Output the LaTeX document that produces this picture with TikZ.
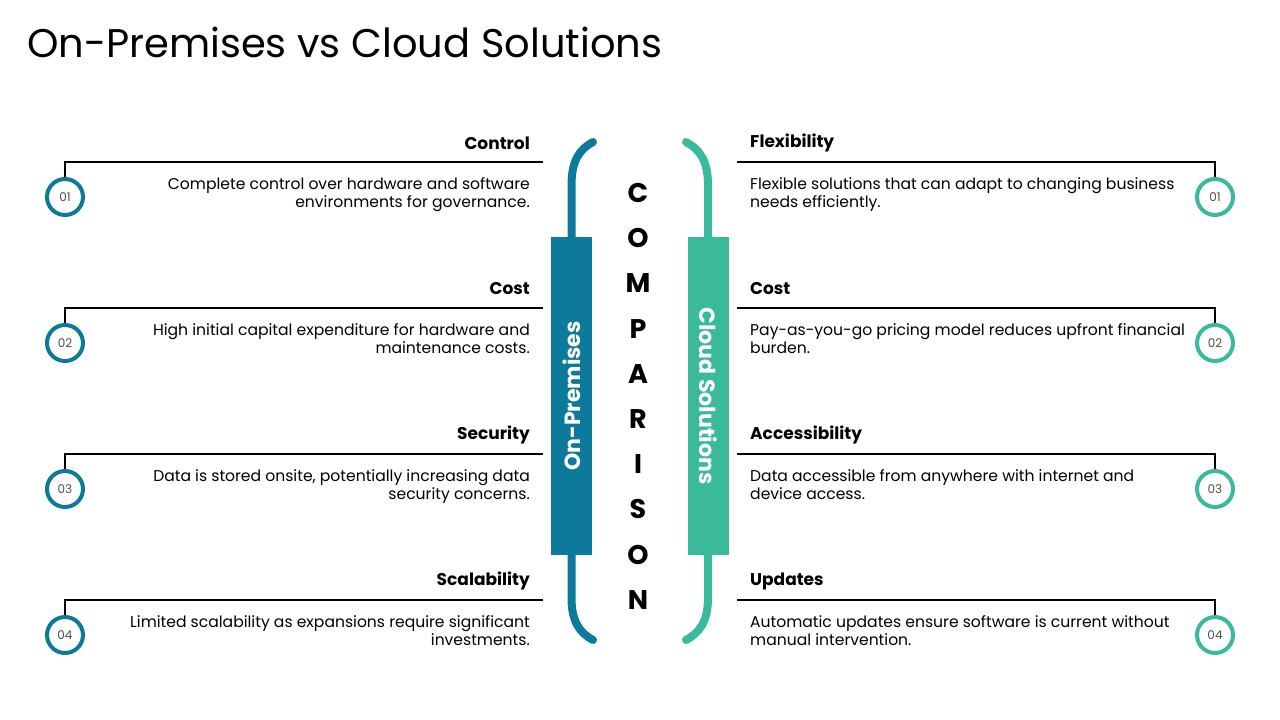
\documentclass[tikz,border=0pt]{standalone}
\usepackage{fontspec}
\setmainfont{Poppins}
\usetikzlibrary{positioning, calc}
\definecolor{prem}{HTML}{0E7A9B}
\definecolor{cloud}{HTML}{3BB99B}
\tikzset{
  numc/.style   = {draw, circle, line width=4pt, minimum size=36pt, inner sep=0pt,
                   font=\fontsize{12}{12}\selectfont, text=black!70},
  head/.style   = {inner sep=0pt, font=\fontsize{17}{17}\selectfont\bfseries},
  desc/.style   = {inner sep=0pt, font=\fontsize{15.6}{18}\selectfont},
  rule/.style   = {line width=1.2pt},
  bar/.style    = {line width=8pt, line cap=round},
  barbox/.style = {inner sep=0pt, minimum width=41pt, minimum height=318pt},
  barlbl/.style = {text=white, font=\fontsize{22}{22}\selectfont\bfseries},
  letter/.style = {inner sep=0pt, font=\fontsize{27}{27}\selectfont\bfseries},
}

\begin{document}
\begin{tikzpicture}[x=1pt, y=-1pt]
  \useasboundingbox (0,0) rectangle (1280,720);
  \node[anchor=base west, inner sep=0pt, font=\fontsize{40}{40}\selectfont]
    (title) at (27,57) {On-Premises vs Cloud Solutions};

  % left side
  \foreach \y/\n/\h/\d in {143/01/Control/{Complete control over hardware and software\\environments for governance.},
                           289/02/Cost/{High initial capital expenditure for hardware and\\maintenance costs.},
                           435/03/Security/{Data is stored onsite, potentially increasing data\\security concerns.},
                           581/04/Scalability/{Limited scalability as expansions require significant\\investments.}}{
    \node[head, anchor=east] (lh\n) at (530,\y) {\h};
    \node[desc, anchor=north east, align=right] (ld\n) at (530,\y+34) {\d};
    \node[numc, draw=prem] (ln\n) at (65,\y+54) {\n};
    \coordinate (lr\n) at (543,\y+19);
    \draw[rule] (lr\n) -- (65,\y+19) -- (ln\n);
  }

  % right side
  \foreach \y/\n/\h/\d in {143/01/Flexibility/{Flexible solutions that can adapt to changing business\\needs efficiently.},
                           289/02/Cost/{Pay-as-you-go pricing model reduces upfront financial\\burden.},
                           435/03/Accessibility/{Data accessible from anywhere with internet and\\device access.},
                           581/04/Updates/{Automatic updates ensure software is current without\\manual intervention.}}{
    \node[head, anchor=west] (rh\n) at (750,\y) {\h};
    \node[desc, anchor=north west, align=left] (rd\n) at (750,\y+34) {\d};
    \node[numc, draw=cloud] (rn\n) at (1215,\y+54) {\n};
    \coordinate (rr\n) at (737,\y+19);
    \draw[rule] (rr\n) -- (1215,\y+19) -- (rn\n);
  }

  % brackets
  \node[barbox, fill=prem] (prembar) at (571.5,396) {};
  \node[barlbl, rotate=90] (premlbl) at (prembar.center) {On-Premises};
  \draw[bar, prem] (prembar.north) -- (571.5,185) .. controls (571.5,160) and (580,149) .. (593,142);
  \draw[bar, prem] (prembar.south) -- (571.5,598) .. controls (571.5,622) and (580,633) .. (593,640);

  \node[barbox, fill=cloud] (cloudbar) at (708,396) {};
  \node[barlbl, rotate=-90] (cloudlbl) at (cloudbar.center) {Cloud Solutions};
  \draw[bar, cloud] (cloudbar.north) -- (708,185) .. controls (708,160) and (699,149) .. (686,142);
  \draw[bar, cloud] (cloudbar.south) -- (708,598) .. controls (708,622) and (699,633) .. (686,640);

  % comparison
  \foreach \l [count=\i] in {C,O,M,P,A,R,I,S,O,N}{
    \node[letter] (cmp\i) at (638,{193+45.2*(\i-1)}) {\l};
  }
\end{tikzpicture}
\end{document}
